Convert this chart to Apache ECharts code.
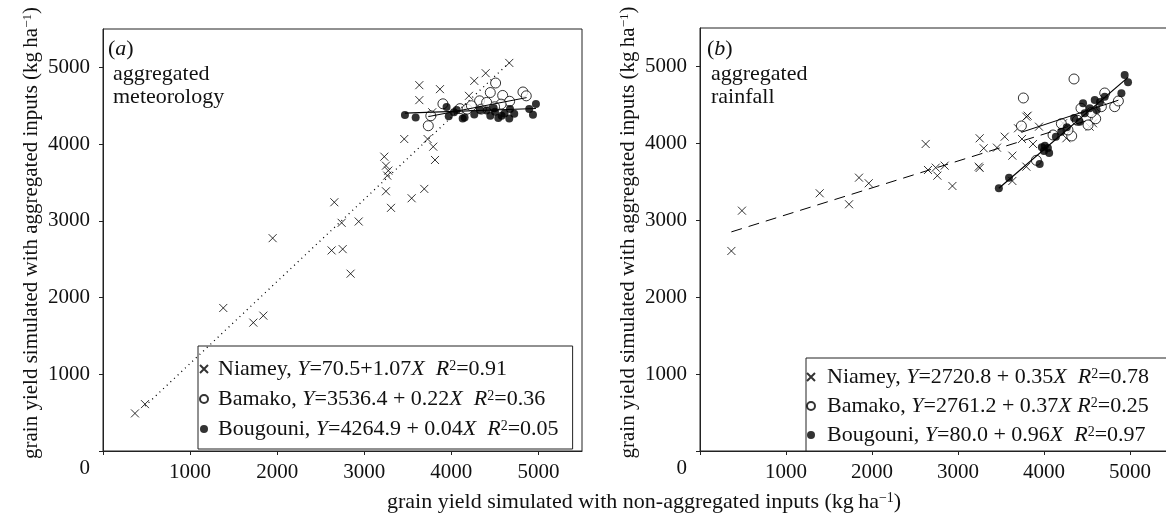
<!DOCTYPE html>
<html><head><meta charset="utf-8">
<script src="https://cdn.jsdelivr.net/npm/echarts@6/dist/echarts.min.js"></script>
<style>html,body{margin:0;padding:0;background:#fff}#c{width:1166px;height:517px}</style>
</head><body><div id="c"></div>
<script>
// ---------------- data ----------------
const tickValues = [0, 1000, 2000, 3000, 4000, 5000];
const xLabelValues = [1000, 2000, 3000, 4000, 5000];
const yLabelValues = [0, 1000, 2000, 3000, 4000, 5000];

// (a) aggregated meteorology  [non-aggregated, aggregated]
const niameyA = [[367,490],[482,611],[1381,1864],[1726,1673],[1841,1764],[1948,2774],[2625,2614],[2752,2631],[2843,2311],[2656,3242],[2740,2974],[2936,2991],[3230,3836],[3249,3719],[3276,3654],[3264,3589],[3249,3385],[3307,3169],[3544,3294],[3689,3416],[3459,4066],[3727,4066],[3792,3966],[3812,3793],[3632,4768],[3632,4573],[3869,4716],[4202,4629],[4263,4824],[4394,4924],[4665,5058],[3780,4415]];
const bamakoA = [[4508,4796],[4447,4672],[4589,4634],[4324,4564],[4822,4679],[4860,4629],[4669,4558],[4571,4521],[3903,4525],[4099,4462],[4180,4455],[3764,4369],[3735,4239],[4344,4456],[4405,4543],[4496,4486],[4230,4500]];
const bougouniA = [[3467,4378],[3590,4347],[3945,4482],[3970,4362],[4030,4416],[4061,4443],[4130,4334],[4152,4347],[4263,4386],[4330,4443],[4405,4438],[4447,4369],[4501,4423],[4485,4470],[4539,4340],[4577,4369],[4673,4456],[4665,4334],[4722,4395],[4894,4456],[4937,4382],[4971,4521],[4610,4400]];
const fitNiameyA = [[482,586],[4665,5062]];
const fitBamakoA = [[3735,4358],[4864,4606]];
const fitBougouniA = [[3467,4404],[4971,4464]];

// (b) aggregated rainfall
const niameyB = [[365,2601],[488,3125],[1392,3351],[1733,3208],[1849,3554],[1962,3481],[2624,3992],[2651,3654],[2741,3684],[2760,3580],[2845,3710],[2935,3446],[3252,4066],[3299,3936],[3241,3697],[3252,3680],[3453,3944],[3543,4087],[3632,3840],[3744,4057],[3872,3992],[3698,4196],[3795,4347],[3810,4360],[3942,4217],[3795,3697],[3632,3511],[4260,4066],[4570,4261],[4221,4261],[4531,4217]];
const bamakoB = [[4349,4837],[3760,4590],[3737,4226],[4105,4109],[4202,4256],[4322,4096],[4512,4239],[4601,4320],[4430,4456],[4706,4655],[4822,4477],[4865,4551],[4667,4477],[3911,3780],[4279,4174],[4388,4300],[4550,4400]];
const bougouniB = [[3475,3415],[3593,3552],[3950,3732],[3975,3950],[4010,3968],[4045,3940],[4060,3875],[4000,3900],[4138,4087],[4200,4150],[4265,4210],[4415,4282],[4454,4521],[4473,4391],[4531,4456],[4590,4564],[4651,4538],[4612,4434],[4706,4607],[4900,4651],[4938,4889],[4977,4795],[4350,4330]];
const fitNiameyB = [[365,2849],[4570,4320]];
const fitBamakoB = [[3737,4144],[4865,4561]];
const fitBougouniB = [[3475,3416],[4977,4858]];

// legend texts (rich)
const legendA = {
  'Niamey a': '{n|Niamey, }{i|Y}{n|=70.5+1.07}{i|X}{n|  }{i|R}{s|2}{n|=0.91}',
  'Bamako a': '{n|Bamako, }{i|Y}{n|=3536.4 + 0.22}{i|X}{n|  }{i|R}{s|2}{n|=0.36}',
  'Bougouni a': '{n|Bougouni, }{i|Y}{n|=4264.9 + 0.04}{i|X}{n|  }{i|R}{s|2}{n|=0.05}'
};
const legendB = {
  'Niamey b': '{n|Niamey, }{i|Y}{n|=2720.8 + 0.35}{i|X}{n|  }{i|R}{s|2}{n|=0.78}',
  'Bamako b': '{n|Bamako, }{i|Y}{n|=2761.2 + 0.37}{i|X}{n| }{i|R}{s|2}{n|=0.25}',
  'Bougouni b': '{n|Bougouni, }{i|Y}{n|=80.0 + 0.96}{i|X}{n|  }{i|R}{s|2}{n|=0.97}'
};

// ---------------- styles ----------------
const FONT = '"Liberation Serif","Times New Roman",serif';
const FS = 22;
const FT = 21;
const INK = '#111';
const rich = {
  n: {fontFamily: FONT, fontSize: FS, color: INK, lineHeight: 20},
  i: {fontFamily: FONT, fontSize: FS, color: INK, fontStyle: 'italic', lineHeight: 20},
  s: {fontFamily: FONT, fontSize: 14, color: INK, lineHeight: 20, verticalAlign: 'top'}
};
const richTitle = {
  n: {fontFamily: FONT, fontSize: FT, color: INK, lineHeight: 20},
  s: {fontFamily: FONT, fontSize: 13, color: INK, lineHeight: 20, verticalAlign: 'top'}
};
const CROSS = 'path://M0,0L10,10M0,10L10,0';
const plain = function (v) { return String(v); };
const yLab = function (v) { return v === 0 ? '{z|0}' : String(v); };

function axisX(gi) {
  return {
    type: 'value', gridIndex: gi, min: 0, max: 5500, interval: 1000,
    splitLine: {show: false},
    axisLine: {onZero: false, lineStyle: {color: '#222', width: 1}},
    axisTick: {show: true, inside: false, length: 4, customValues: tickValues, lineStyle: {color: '#222'}},
    axisLabel: {customValues: xLabelValues, formatter: plain, margin: 11, fontFamily: FONT, fontSize: FT, color: INK}
  };
}
function axisY(gi) {
  return {
    type: 'value', gridIndex: gi, min: 0, max: 5500, interval: 1000,
    splitLine: {show: false},
    axisLine: {onZero: false, lineStyle: {color: '#222', width: 1}},
    axisTick: {show: true, inside: false, length: 4, customValues: tickValues, lineStyle: {color: '#222'}},
    axisLabel: {customValues: yLabelValues, formatter: yLab, margin: 13, fontFamily: FONT, fontSize: FT, color: INK,
      rich: {z: {fontFamily: FONT, fontSize: FT, color: INK, padding: [34, 0, 0, 0]}}},
    name: '{n|grain yield simulated with aggregated inputs (kg\u2009ha}{s|\u22121}{n|)}',
    nameLocation: 'middle', nameGap: 62, nameRotate: 90,
    nameTextStyle: {rich: richTitle, padding: [0, 0, 0, 14]}
  };
}
function scat(name, data, gi, kind) {
  const base = {name: name, type: 'scatter', data: data, xAxisIndex: gi, yAxisIndex: gi, z: 3};
  if (kind === 'x') {
    return Object.assign(base, {symbol: CROSS, symbolSize: 8,
      itemStyle: {color: 'transparent', borderColor: '#000', borderWidth: 1}});
  }
  if (kind === 'o') {
    return Object.assign(base, {symbol: 'circle', symbolSize: 10, z: 4,
      itemStyle: {color: '#fff', borderColor: '#000', borderWidth: 1}});
  }
  return Object.assign(base, {symbol: 'circle', symbolSize: 8, z: 5,
    itemStyle: {color: '#000', borderColor: '#000', borderWidth: 0}});
}
function fit(name, data, gi, type, w) {
  return {name: name, type: 'line', data: data, xAxisIndex: gi, yAxisIndex: gi,
    symbol: 'none', z: 6, silent: true,
    lineStyle: {color: '#000', width: w || 1, type: type || 'solid'}};
}
function legend(left, top, names, texts, pad, gap, iw) {
  return {
    left: left, top: top, orient: 'vertical',
    padding: pad, itemGap: gap, itemWidth: iw, itemHeight: 8,
    borderColor: '#222', borderWidth: 1, backgroundColor: '#fff',
    selectedMode: false, data: names,
    formatter: function (n) { return texts[n]; },
    textStyle: {rich: rich, fontFamily: FONT, fontSize: FS, color: INK}
  };
}

const option = {
  animation: false,
  backgroundColor: '#fff',
  grid: [
    {left: 103, top: 29, width: 479, height: 422, show: true, borderColor: '#222', borderWidth: 1, backgroundColor: 'transparent', outerBoundsMode: 'none'},
    {left: 700, top: 28, width: 473, height: 423, show: true, borderColor: '#222', borderWidth: 1, backgroundColor: 'transparent', outerBoundsMode: 'none'}
  ],
  xAxis: [axisX(0), axisX(1)],
  yAxis: [axisY(0), axisY(1)],
  legend: [
    legend(198, 346, ['Niamey a', 'Bamako a', 'Bougouni a'], legendA, [12, 14, 9, 1], 8, 18),
    legend(806, 358, ['Niamey b', 'Bamako b', 'Bougouni b'], legendB, [8, 26, 5, 0], 7, 22)
  ],
  series: [
    scat('Niamey a', niameyA, 0, 'x'),
    scat('Bamako a', bamakoA, 0, 'o'),
    scat('Bougouni a', bougouniA, 0, 'f'),
    fit('fitNiameyA', fitNiameyA, 0, [1, 4], 1.3),
    fit('fitBamakoA', fitBamakoA, 0, 'solid', 1),
    fit('fitBougouniA', fitBougouniA, 0, 'solid', 1.2),
    scat('Niamey b', niameyB, 1, 'x'),
    scat('Bamako b', bamakoB, 1, 'o'),
    scat('Bougouni b', bougouniB, 1, 'f'),
    fit('fitNiameyB', fitNiameyB, 1, [11, 7], 1),
    fit('fitBamakoB', fitBamakoB, 1, 'solid', 1),
    fit('fitBougouniB', fitBougouniB, 1, 'solid', 1.2)
  ],
  graphic: [
    {type: 'text', left: 108, top: 38, style: {text: '{n|(}{i|a}{n|)}', rich: {n: {fontFamily: FONT, fontSize: FS, fill: INK, lineHeight: 23}, i: {fontFamily: FONT, fontSize: FS, fontStyle: 'italic', fill: INK, lineHeight: 23}}}},
    {type: 'text', left: 113, top: 63, style: {text: 'aggregated\nmeteorology', fontFamily: FONT, fontSize: FS, fill: INK, lineHeight: 23}},
    {type: 'text', left: 707, top: 38, style: {text: '{n|(}{i|b}{n|)}', rich: {n: {fontFamily: FONT, fontSize: FS, fill: INK, lineHeight: 23}, i: {fontFamily: FONT, fontSize: FS, fontStyle: 'italic', fill: INK, lineHeight: 23}}}},
    {type: 'text', left: 711, top: 63, style: {text: 'aggregated\nrainfall', fontFamily: FONT, fontSize: FS, fill: INK, lineHeight: 23}},
    {type: 'text', left: 387, top: 491, style: {text: '{n|grain yield simulated with non-aggregated inputs (kg\u2009ha}{s|\u22121}{n|)}', rich: {
      n: {fontFamily: FONT, fontSize: FS, fill: INK, lineHeight: 22},
      s: {fontFamily: FONT, fontSize: 14, fill: INK, lineHeight: 22, verticalAlign: 'top'}}}}
  ]
};

const chart = echarts.init(document.getElementById('c'), null, {renderer: 'canvas'});
chart.setOption(option);
</script>
</body></html>
